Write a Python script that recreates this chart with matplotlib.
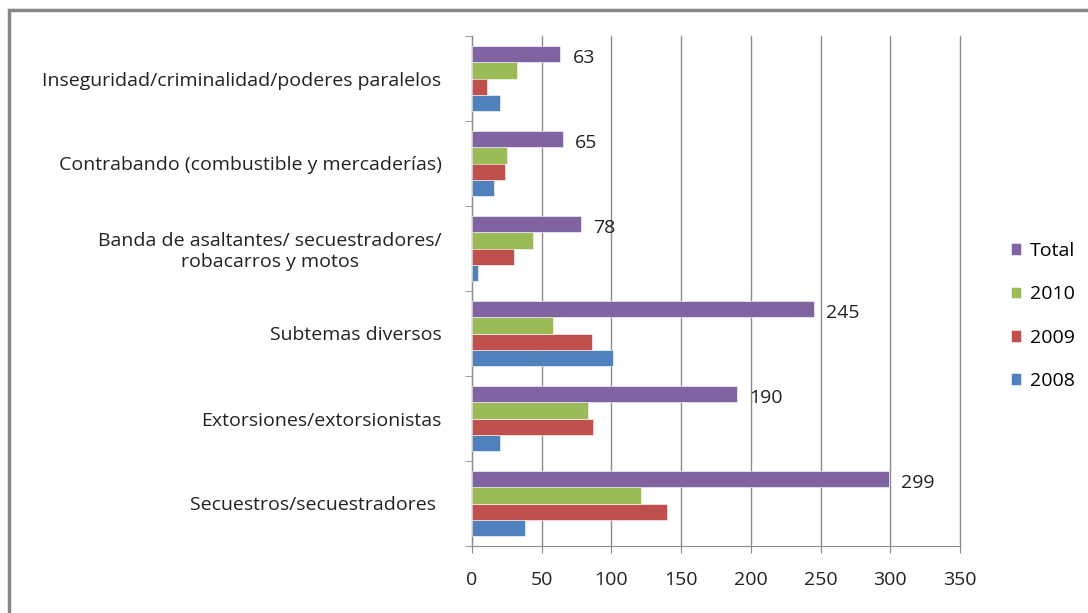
import numpy as np
import matplotlib
matplotlib.use('Agg')
from matplotlib import pyplot as plt
from matplotlib.patches import Rectangle

categories = ['Secuestros/secuestradores ',
              'Extorsiones/extorsionistas',
              'Subtemas diversos',
              'Banda de asaltantes/ secuestradores/\nrobacarros y motos',
              'Contrabando (combustible y mercaderías)',
              'Inseguridad/criminalidad/poderes paralelos']
y2008 = [38, 20, 101, 4, 16, 20]
y2009 = [140, 87, 86, 30, 24, 11]
y2010 = [121, 83, 58, 44, 25, 32]
total = [299, 190, 245, 78, 65, 63]
ticks = [0, 50, 100, 150, 200, 250, 300, 350]

plt.rcParams['font.family'] = ['Open Sans', 'DejaVu Sans']
fig = plt.figure(figsize=(10.88, 6.13), dpi=100)
ax = fig.add_axes([472/1088, 1 - 546/613, 488/1088, 510/613])

# outer chart border (right and bottom edges fall outside the picture)
fig.patches.append(Rectangle((9/1088, -0.2), 1.2, 1.2 - 10/613, transform=fig.transFigure,
                             fill=False, edgecolor='#878787', linewidth=2.5))

y = np.arange(len(categories))
h = 0.19
series = [(y2008, '#4F81BD', '2008'), (y2009, '#C0504D', '2009'),
          (y2010, '#9BBB59', '2010'), (total, '#8064A2', 'Total')]
handles = []
for i, (vals, col, lab) in enumerate(series):
    b = ax.barh(y + (i - 1.5) * h, vals, height=h, color=col, label=lab,
                edgecolor='white', linewidth=0.4, zorder=3)
    handles.append(b)

for yi, v in zip(y, total):
    ax.text(v + 9, yi + 1.5 * h - 0.04, str(v), va='center', ha='left',
            fontsize=14, color='#222222')

ax.set_xlim(0, 350)
ax.set_ylim(-0.5, len(categories) - 0.5)
ax.set_xticks(ticks)
ax.xaxis.grid(True, color='#8c8c8c', linewidth=1)
for gl in ax.get_xgridlines():
    gl.set_clip_on(False)
ax.set_axisbelow(True)
ax.tick_params(axis='x', length=5, color='#8c8c8c', labelsize=14, pad=13,
               labelcolor='#222222')

ax.set_yticks(y)
ax.set_yticklabels(categories, fontsize=14, color='#222222', multialignment='center')
ax.set_yticks(np.arange(-0.5, len(categories)), minor=True)
ax.tick_params(axis='y', which='major', length=0, pad=22)
ax.tick_params(axis='y', which='minor', length=5, color='#8c8c8c')

for s in ['top', 'right']:
    ax.spines[s].set_visible(False)
for s in ['left', 'bottom']:
    ax.spines[s].set_color('#8c8c8c')

fig.legend(handles[::-1], ['Total', '2010', '2009', '2008'], loc='center left',
           bbox_to_anchor=(993/1088, 1 - 316/613), frameon=False, fontsize=14,
           handlelength=0.55, handleheight=0.55, handletextpad=0.45, labelspacing=1.3)

fig.savefig('out.png', dpi=100)
